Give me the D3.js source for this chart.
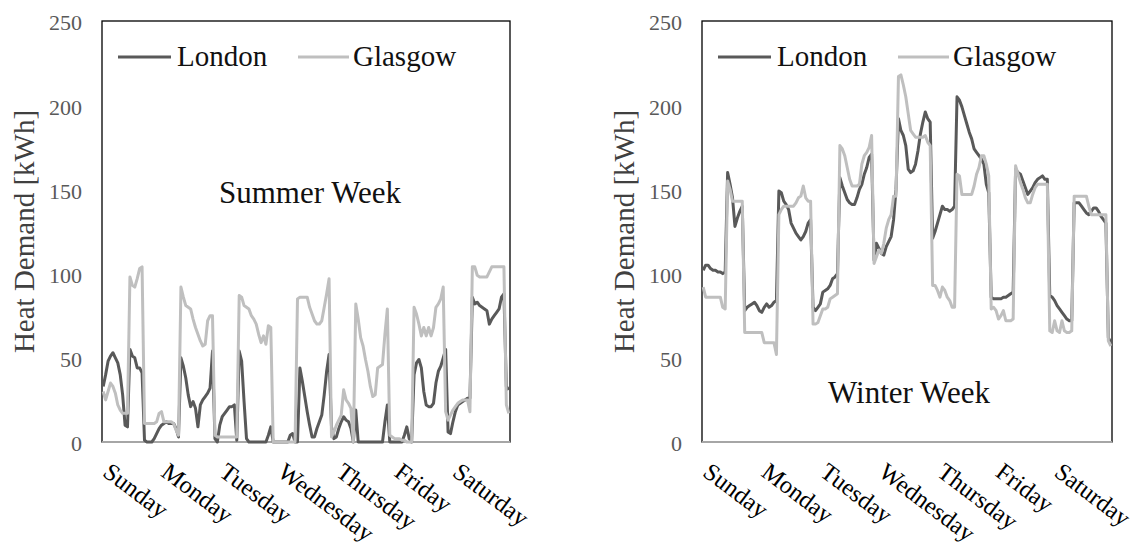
<!DOCTYPE html>
<html>
<head>
<meta charset="utf-8">
<script src="https://cdn.jsdelivr.net/npm/d3@7"></script>
<style>
  body { margin: 0; background: #fff; }
  svg text { font-family: "Liberation Serif", serif !important; }
</style>
</head>
<body>
<svg></svg>
<script>
// Hourly heat demand, Sunday 00:00 -> Saturday 23:00 (168 values per series)
const days = ["Sunday", "Monday", "Tuesday", "Wednesday", "Thursday", "Friday", "Saturday"];
const yTicks = [0, 50, 100, 150, 200, 250];
const cities = ["London", "Glasgow"];
const panelTitles = ["Summer Week", "Winter Week"];

const londonSummer = [
  33, 40, 48, 51, 53, 50, 47, 40, 28, 10,
  9, 55, 51, 50, 44, 44, 41, 1, 0, 0,
  0, 2, 5, 8, 10, 11, 12, 11, 11, 11,
  8, 3, 50, 45, 38, 28, 21, 24, 20, 9,
  22, 25, 27, 29, 32, 54, 2, 0, 10, 15,
  17, 19, 21, 21, 22, 1, 54, 48, 24, 2,
  0, 0, 0, 0, 0, 0, 0, 0, 4, 9,
  0, 0, 0, 0, 0, 0, 0, 4, 5, 0,
  0, 44, 36, 27, 18, 10, 3, 3, 8, 12,
  16, 28, 42, 52, 9, 2, 3, 8, 12, 15,
  13, 12, 8, 0, 19, 0, 0, 0, 0, 0,
  0, 0, 0, 0, 0, 0, 12, 22, 0, 0,
  0, 0, 0, 0, 4, 9, 2, 0, 40, 47,
  49, 44, 30, 22, 21, 21, 23, 35, 42, 45,
  50, 55, 6, 5, 12, 18, 22, 23, 24, 25,
  26, 26, 86, 82, 83, 81, 80, 79, 78, 70,
  73, 75, 77, 79, 86, 88, 33, 31
];

const glasgowSummer = [
  30, 25, 30, 35, 33, 29, 22, 19, 17, 17,
  17, 98, 93, 92, 97, 103, 104, 11, 11, 11,
  11, 11, 12, 17, 18, 12, 12, 12, 12, 11,
  7, 4, 92, 86, 81, 80, 79, 73, 68, 64,
  60, 57, 58, 72, 75, 75, 4, 3, 3, 3,
  3, 3, 3, 3, 3, 3, 87, 86, 81, 80,
  79, 75, 73, 70, 64, 59, 63, 58, 69, 68,
  0, 0, 0, 0, 0, 0, 0, 0, 0, 0,
  85, 86, 86, 86, 86, 80, 76, 72, 70, 70,
  72, 80, 88, 97, 3, 6, 10, 13, 16, 31,
  25, 23, 20, 0, 82, 73, 62, 57, 49, 42,
  33, 27, 28, 44, 45, 46, 64, 79, 4, 3,
  2, 2, 2, 1, 1, 0, 0, 0, 80, 76,
  70, 63, 68, 63, 68, 63, 68, 80, 82, 85,
  92, 18, 13, 16, 19, 21, 23, 24, 25, 25,
  25, 18, 104, 104, 99, 98, 98, 98, 98, 101,
  104, 104, 104, 104, 104, 104, 22, 17
];

const londonWinter = [
  102, 105, 105, 103, 102, 102, 101, 101, 100, 101,
  160, 153, 145, 128, 133, 137, 140, 78, 80, 81,
  82, 83, 81, 78, 77, 80, 82, 80, 81, 83,
  84, 149, 148, 143, 141, 138, 130, 127, 124, 122,
  120, 122, 125, 130, 132, 80, 78, 80, 82, 89,
  90, 91, 93, 97, 98, 100, 157, 152, 148, 144,
  142, 141, 141, 145, 150, 153, 159, 163, 169, 171,
  108, 118, 115, 112, 111, 116, 119, 122, 132, 150,
  192, 185, 182, 176, 162, 160, 161, 165, 173, 183,
  190, 196, 192, 190, 121, 125, 130, 135, 140, 138,
  138, 137, 138, 140, 205, 203, 199, 194, 189, 184,
  180, 174, 172, 170, 168, 165, 153, 148, 86, 85,
  85, 85, 85, 86, 86, 87, 88, 89, 162, 160,
  159, 155, 151, 147, 149, 151, 154, 156, 157, 158,
  156, 156, 87, 86, 84, 81, 79, 77, 75, 73,
  72, 72, 142, 142, 142, 140, 138, 136, 135, 137,
  139, 139, 137, 134, 132, 130, 62, 59
];

const glasgowWinter = [
  92, 86, 86, 86, 86, 86, 86, 86, 80, 79,
  155, 150, 143, 143, 143, 143, 143, 65, 65, 65,
  65, 65, 65, 65, 65, 59, 59, 59, 59, 59,
  52, 135, 138, 140, 140, 140, 140, 140, 142, 145,
  146, 152, 145, 143, 143, 70, 70, 71, 75, 79,
  79, 80, 85, 86, 87, 88, 176, 174, 170, 163,
  156, 152, 152, 152, 153, 165, 170, 172, 175, 182,
  106, 110, 114, 112, 118, 127, 132, 135, 146, 146,
  217, 218, 212, 205, 195, 185, 183, 181, 181, 181,
  181, 182, 178, 176, 93, 93, 90, 86, 92, 90,
  86, 84, 80, 80, 159, 158, 147, 147, 147, 147,
  147, 152, 159, 163, 170, 170, 165, 158, 79, 80,
  78, 73, 75, 78, 72, 72, 72, 73, 164, 159,
  154, 150, 145, 142, 142, 147, 151, 153, 153, 153,
  153, 153, 66, 65, 72, 66, 65, 72, 66, 65,
  65, 66, 146, 146, 146, 146, 146, 146, 140, 135,
  135, 135, 135, 135, 135, 135, 60, 57
];

const width = 1138, height = 547;
const svg = d3.select("svg").attr("width", width).attr("height", height);
const serif = '"Liberation Serif", serif';

const plotTop = 21, plotBottom = 442;
const colors = {London: "#595959", Glasgow: "#bfbfbf"};

const panels = [
  {left: 102, right: 510, title: panelTitles[0], titleY: 203, titleDx: 4,
   series: {London: londonSummer, Glasgow: glasgowSummer}},
  {left: 702, right: 1112, title: panelTitles[1], titleY: 403, titleDx: 2,
   series: {London: londonWinter, Glasgow: glasgowWinter}}
];

panels.forEach(p => {
  const g = svg.append("g").attr("font-family", serif);
  const pw = p.right - p.left;

  const x = d3.scaleLinear().domain([0, 168]).range([p.left, p.right]);
  const y = d3.scaleLinear().domain([0, 250]).range([plotBottom, plotTop]);

  // plot frame
  g.append("rect")
    .attr("x", p.left).attr("y", plotTop)
    .attr("width", pw).attr("height", plotBottom - plotTop)
    .attr("fill", "none")
    .attr("stroke", "#000")
    .attr("stroke-width", 1.3);

  // y axis labels
  const yAxis = g.append("g")
    .attr("transform", `translate(${p.left},0)`)
    .call(d3.axisLeft(y).tickValues(yTicks).tickSize(0).tickPadding(20));
  yAxis.attr("font-family", serif);
  yAxis.select(".domain").remove();
  yAxis.selectAll("text")
    .attr("dy", "0.4em")
    .style("font-size", "22px")
    .attr("fill", "#595959");

  // y axis title
  g.append("text")
    .attr("transform", `translate(${p.left - 78},${(plotTop + plotBottom) / 2}) rotate(-90)`)
    .attr("text-anchor", "middle")
    .attr("dominant-baseline", "central")
    .style("font-size", "29px")
    .attr("fill", "#404040")
    .text("Heat Demand [kWh]");

  // x axis with rotated day names
  const xAxis = g.append("g")
    .attr("transform", `translate(0,${plotBottom})`)
    .call(d3.axisBottom(x)
      .tickValues(d3.range(days.length).map(i => i * 24))
      .tickSize(0)
      .tickFormat((d, i) => days[i]));
  xAxis.attr("font-family", serif);
  xAxis.select(".domain")
    .attr("stroke", "#a6a6a6")
    .attr("stroke-width", 2)
    .attr("d", `M${p.left},0H${p.right}`);
  xAxis.selectAll("text")
    .attr("x", 0).attr("y", 0).attr("dy", 0)
    .attr("text-anchor", "start")
    .attr("transform", "translate(-1,33) rotate(37)")
    .style("font-size", "24.5px")
    .attr("fill", "#000");

  // series lines (Glasgow drawn on top)
  const line = d3.line()
    .x((d, i) => x(i + 0.5))
    .y(d => y(d));

  cities.forEach(c => {
    g.append("path")
      .datum(p.series[c])
      .attr("d", line)
      .attr("fill", "none")
      .attr("stroke", colors[c])
      .attr("stroke-width", 3)
      .attr("stroke-linejoin", "round");
  });

  // legend
  const legendPos = {London: [16, 69, 75], Glasgow: [196, 247, 251]};
  cities.forEach(c => {
    const [x1, x2, tx] = legendPos[c];
    g.append("line")
      .attr("x1", p.left + x1).attr("x2", p.left + x2)
      .attr("y1", 57).attr("y2", 57)
      .attr("stroke", colors[c])
      .attr("stroke-width", 3);
    g.append("text")
      .attr("x", p.left + tx).attr("y", 66)
      .style("font-size", "29px")
      .attr("fill", "#111")
      .text(c);
  });

  // panel title
  g.append("text")
    .attr("x", p.left + pw / 2 + p.titleDx)
    .attr("y", p.titleY)
    .attr("text-anchor", "middle")
    .style("font-size", "31px")
    .attr("fill", "#111")
    .text(p.title);
});
</script>
</body>
</html>
